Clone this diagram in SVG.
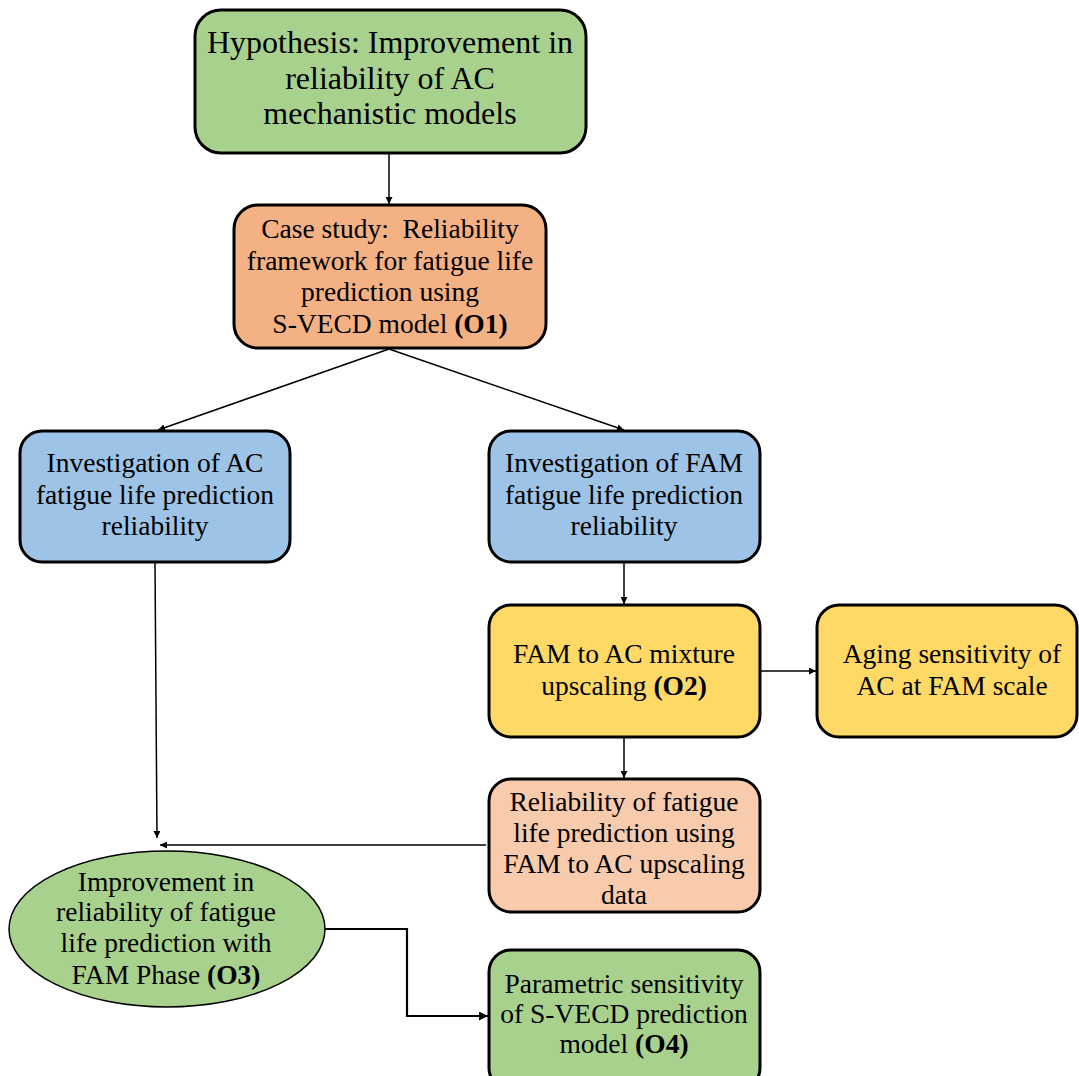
<svg xmlns="http://www.w3.org/2000/svg" width="1079" height="1076" viewBox="0 0 1079 1076">
  <style>
    .box { stroke: #000; stroke-width: 3; }
    .t { font-family: "Liberation Serif", "Times New Roman", serif; font-size: 27.5px; fill: #000; text-anchor: middle; }
    .big { font-size: 32px; }
    .b { font-weight: bold; }
    .edge { stroke: #000; stroke-width: 1.5; fill: none; }
    .green { fill: #A9D18E; }
    .orange { fill: #F4B183; }
    .blue { fill: #9DC3E6; }
    .yellow { fill: #FFD966; }
    .peach { fill: #F8CBAD; }
  </style>
  <defs>
    <marker id="arrow" viewBox="0 0 10 10" refX="10" refY="5" markerWidth="7" markerHeight="7" markerUnits="userSpaceOnUse" orient="auto">
      <path d="M0,0 L10,5 L0,10 z" fill="#000"/>
    </marker>
    <marker id="arrowLg" viewBox="0 0 10 10" refX="10" refY="5" markerWidth="9" markerHeight="9" markerUnits="userSpaceOnUse" orient="auto">
      <path d="M0,0 L10,5 L0,10 z" fill="#000"/>
    </marker>
  </defs>
  <rect width="1079" height="1076" fill="#fff"/>

  <g id="connectors">
    <line class="edge" x1="389" y1="154" x2="389" y2="204" marker-end="url(#arrow)"/>
    <line class="edge" x1="389" y1="349" x2="158" y2="430" marker-end="url(#arrow)"/>
    <line class="edge" x1="389" y1="349" x2="624" y2="430" marker-end="url(#arrow)"/>
    <line class="edge" x1="624" y1="563" x2="624" y2="604" marker-end="url(#arrow)"/>
    <line class="edge" x1="761" y1="671" x2="816" y2="671" marker-end="url(#arrow)"/>
    <line class="edge" x1="624" y1="738" x2="624" y2="778" marker-end="url(#arrow)"/>
    <line class="edge" x1="155" y1="563" x2="157" y2="838" marker-end="url(#arrow)"/>
    <line class="edge" x1="486" y1="845" x2="160" y2="845" marker-end="url(#arrow)"/>
    <polyline class="edge" style="stroke-width:2.2" points="325,929 407,929 407,1016 488,1016" marker-end="url(#arrowLg)"/>
  </g>

  <g id="hypothesis">
    <rect class="box green" x="195" y="10" width="391" height="143" rx="26"/>
    <text class="t big" x="390" y="53">Hypothesis: Improvement in</text>
    <text class="t big" x="390" y="89">reliability of AC</text>
    <text class="t big" x="390" y="124">mechanistic models</text>
  </g>

  <g id="case-study">
    <rect class="box orange" x="234" y="205" width="312" height="143" rx="24"/>
    <text class="t" x="390" y="238" xml:space="preserve">Case study:  Reliability</text>
    <text class="t" x="390" y="270">framework for fatigue life</text>
    <text class="t" x="390" y="301">prediction using</text>
    <text class="t" x="390" y="333">S-VECD model <tspan class="b">(O1)</tspan></text>
  </g>

  <g id="ac-reliability">
    <rect class="box blue" x="20" y="431" width="270" height="131" rx="22"/>
    <text class="t" x="155" y="472">Investigation of AC</text>
    <text class="t" x="155" y="504">fatigue life prediction</text>
    <text class="t" x="155" y="535">reliability</text>
  </g>

  <g id="fam-reliability">
    <rect class="box blue" x="489" y="431" width="271" height="131" rx="22"/>
    <text class="t" x="624" y="472">Investigation of FAM</text>
    <text class="t" x="624" y="504">fatigue life prediction</text>
    <text class="t" x="624" y="535">reliability</text>
  </g>

  <g id="upscaling">
    <rect class="box yellow" x="489" y="605" width="271" height="132" rx="22"/>
    <text class="t" x="624" y="663">FAM to AC mixture</text>
    <text class="t" x="624" y="695">upscaling <tspan class="b">(O2)</tspan></text>
  </g>

  <g id="aging">
    <rect class="box yellow" x="817" y="605" width="260" height="132" rx="22"/>
    <text class="t" x="952" y="663">Aging sensitivity of</text>
    <text class="t" x="952" y="695">AC at FAM scale</text>
  </g>

  <g id="upscaling-reliability">
    <rect class="box peach" x="489" y="779" width="271" height="133" rx="22"/>
    <text class="t" x="624" y="811">Reliability of fatigue</text>
    <text class="t" x="624" y="842">life prediction using</text>
    <text class="t" x="624" y="873">FAM to AC upscaling</text>
    <text class="t" x="624" y="904">data</text>
  </g>

  <g id="fam-phase">
    <ellipse class="green" cx="167" cy="929" rx="158" ry="78" stroke="#000" stroke-width="1.5"/>
    <text class="t" x="166" y="891">Improvement in</text>
    <text class="t" x="166" y="921">reliability of fatigue</text>
    <text class="t" x="166" y="952">life prediction with</text>
    <text class="t" x="166" y="984">FAM Phase <tspan class="b">(O3)</tspan></text>
  </g>

  <g id="parametric">
    <rect class="box green" x="489" y="950" width="271" height="140" rx="22"/>
    <text class="t" x="624" y="993">Parametric sensitivity</text>
    <text class="t" x="624" y="1023">of S-VECD prediction</text>
    <text class="t" x="624" y="1053">model <tspan class="b">(O4)</tspan></text>
  </g>
</svg>
